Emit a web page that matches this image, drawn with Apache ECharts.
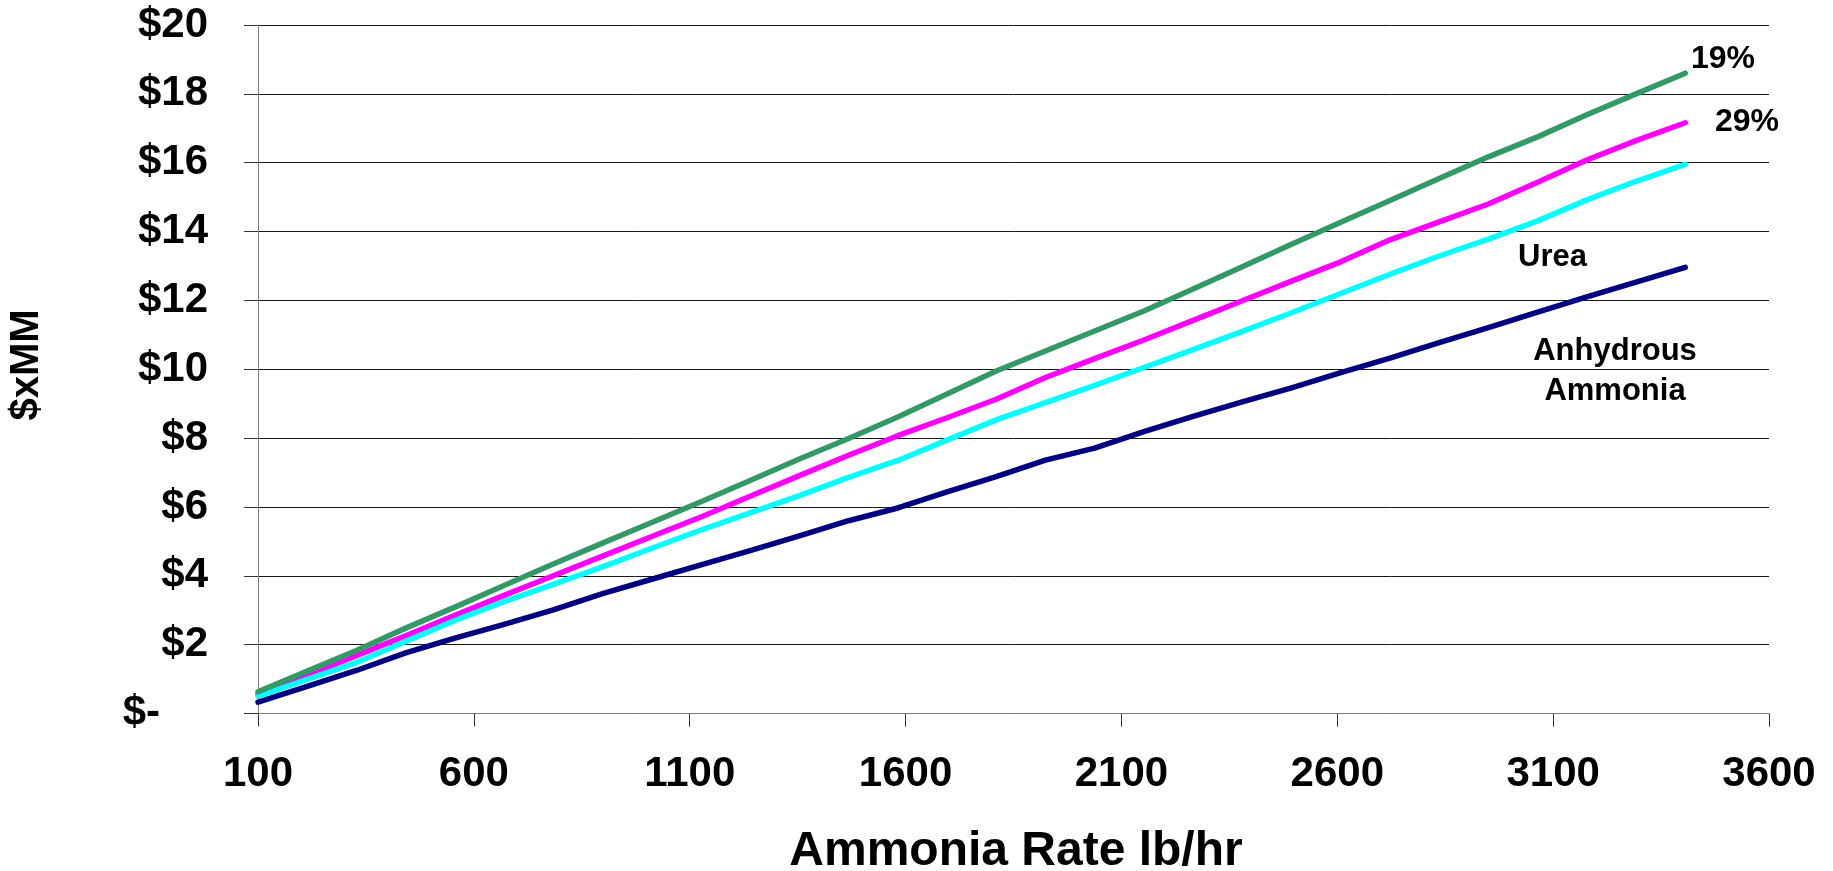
<!DOCTYPE html>
<html>
<head>
<meta charset="utf-8">
<script src="https://cdn.jsdelivr.net/npm/echarts@6/dist/echarts.min.js"></script>
<style>
html,body{margin:0;padding:0;background:#fff;}
#chart{width:1833px;height:871px;}
</style>
</head>
<body>
<div id="chart"></div>
<script>
// Ammonia rate (lb/hr) sample points
const rates = [100, 214, 328, 442, 556, 670, 784, 898, 1012, 1126, 1240, 1354, 1468, 1582, 1696, 1810, 1924, 2038, 2152, 2266, 2380, 2494, 2608, 2722, 2836, 2950, 3064, 3178, 3292, 3406];
// Cost $xMM
const pct19 = [0.63, 1.23, 1.83, 2.48, 3.09, 3.72, 4.34, 4.95, 5.55, 6.15, 6.77, 7.39, 7.99, 8.61, 9.28, 9.95, 10.53, 11.11, 11.69, 12.33, 12.98, 13.63, 14.27, 14.90, 15.54, 16.17, 16.75, 17.39, 18.00, 18.60];
const pct29 = [0.55, 1.11, 1.68, 2.26, 2.85, 3.43, 4.00, 4.57, 5.14, 5.71, 6.31, 6.91, 7.50, 8.07, 8.59, 9.13, 9.76, 10.31, 10.85, 11.42, 11.99, 12.56, 13.12, 13.76, 14.28, 14.80, 15.43, 16.08, 16.64, 17.16];
const urea = [0.50, 0.99, 1.48, 2.09, 2.70, 3.25, 3.75, 4.26, 4.80, 5.33, 5.83, 6.33, 6.86, 7.35, 7.94, 8.53, 9.03, 9.53, 10.05, 10.57, 11.10, 11.64, 12.20, 12.76, 13.29, 13.78, 14.31, 14.92, 15.46, 15.95];
const anhydrous = [0.33, 0.79, 1.25, 1.76, 2.19, 2.59, 3.01, 3.48, 3.90, 4.32, 4.73, 5.16, 5.60, 5.97, 6.44, 6.88, 7.36, 7.71, 8.19, 8.63, 9.05, 9.46, 9.90, 10.32, 10.77, 11.21, 11.66, 12.10, 12.53, 12.96];

const seriesNames = ['Anhydrous Ammonia', '29%', 'Urea', '19%'];
const seriesColors = ['#000080', '#FF00FF', '#00FFFF', '#339966'];
const seriesData = [anhydrous, pct29, urea, pct19];

const xTitle = 'Ammonia Rate lb/hr';
const yTitle = '$xMM';

const FONT = '"Liberation Sans", Arial, Helvetica, sans-serif';

const chart = echarts.init(document.getElementById('chart'), null, {renderer: 'canvas'});

const series = seriesData.map((arr, i) => ({
  name: seriesNames[i],
  type: 'line',
  data: rates.map((r, j) => [r, arr[j]]),
  showSymbol: false,
  symbol: 'none',
  lineStyle: {color: seriesColors[i], width: 5.5, cap: 'round', join: 'round'},
  itemStyle: {color: seriesColors[i]},
  z: 3 + i
}));

const option = {
  animation: false,
  backgroundColor: '#fff',
  grid: {left: 258, right: 64, top: 25, bottom: 157.5, containLabel: false},
  xAxis: {
    type: 'value',
    min: 100, max: 3600, interval: 500,
    axisLine: {show: true, onZero: false, lineStyle: {color: '#808080', width: 1}},
    axisTick: {show: true, inside: false, length: 13, lineStyle: {color: '#333', width: 1}},
    axisLabel: {margin: 40, fontSize: 42, fontWeight: 'bold', color: '#000', fontFamily: FONT,
      formatter: v => String(v)},
    splitLine: {show: false}
  },
  yAxis: {
    type: 'value',
    min: 0, max: 20, interval: 2,
    axisLine: {show: true, lineStyle: {color: '#808080', width: 1}},
    axisTick: {show: true, inside: false, length: 14, lineStyle: {color: '#333', width: 1}},
    axisLabel: {
      margin: 50, fontSize: 42, fontWeight: 'bold', color: '#000', fontFamily: FONT,
      formatter: v => v === 0 ? '{z|$-}' : '$' + v,
      rich: {z: {fontSize: 42, fontWeight: 'bold', color: '#000', fontFamily: FONT, padding: [0, 48, 0, 0]}}
    },
    splitLine: {show: true, lineStyle: {color: '#1a1a1a', width: 1}}
  },
  graphic: [
    {type: 'text', left: 1691, top: 43, style: {text: '19%', font: 'bold 32px ' + FONT, fill: '#000'}},
    {type: 'text', left: 1715, top: 106, style: {text: '29%', font: 'bold 32px ' + FONT, fill: '#000'}},
    {type: 'text', left: 1518, top: 242, style: {text: 'Urea', font: 'bold 31px ' + FONT, fill: '#000'}},
    {type: 'text', x: 1615, y: 351, style: {text: 'Anhydrous', font: 'bold 31px ' + FONT, fill: '#000', align: 'center', verticalAlign: 'middle'}},
    {type: 'text', x: 1615, y: 391, style: {text: 'Ammonia', font: 'bold 31px ' + FONT, fill: '#000', align: 'center', verticalAlign: 'middle'}},
    {type: 'text', x: 1016, y: 852, style: {text: xTitle, font: 'bold 48px ' + FONT, fill: '#000', align: 'center', verticalAlign: 'middle'}},
    {type: 'text', x: 27, y: 365, rotation: Math.PI / 2, style: {text: yTitle, font: 'bold 40px ' + FONT, fill: '#000', align: 'center', verticalAlign: 'middle'}}
  ],
  series: series
};

chart.setOption(option);
</script>
</body>
</html>
